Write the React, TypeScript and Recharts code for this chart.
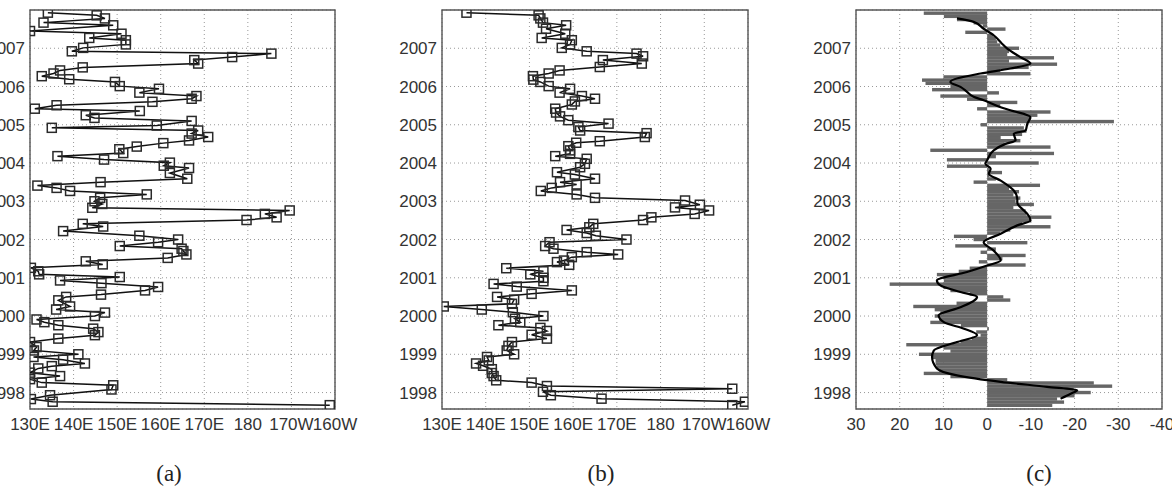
import React from "react";
import {
  ScatterChart,
  Scatter,
  ComposedChart,
  Bar,
  Line,
  XAxis,
  YAxis,
  CartesianGrid,
  ReferenceArea,
} from "recharts";

// ---- shared axes ----
const yearTicks = [1998, 1999, 2000, 2001, 2002, 2003, 2004, 2005, 2006, 2007];
const yearDomain = [1997.57, 2008];
const lonTicks = [130, 140, 150, 160, 170, 180, 190, 200];
const lonTickLabels = ["130E", "140E", "150E", "160E", "170E", "180", "170W", "160W"];
const anomTicks = [30, 20, 10, 0, -10, -20, -30, -40];

// ---- panel (a): time (yr) and longitude (deg E) ----
const aYears = [
  1997.67, 1997.76, 1997.83, 1997.93, 1998.08, 1998.19, 1998.26, 1998.35, 1998.43, 1998.52,
  1998.63, 1998.69, 1998.76, 1998.86, 1998.93, 1999.0, 1999.1, 1999.19, 1999.32, 1999.41,
  1999.5, 1999.58, 1999.67, 1999.76, 1999.84, 1999.91, 2000.0, 2000.09, 2000.17, 2000.25,
  2000.41, 2000.5, 2000.56, 2000.67, 2000.76, 2000.86, 2000.93, 2001.02, 2001.09, 2001.17,
  2001.26, 2001.35, 2001.43, 2001.52, 2001.61, 2001.7, 2001.76, 2001.83, 2001.93, 2002.0,
  2002.1, 2002.22, 2002.34, 2002.41, 2002.51, 2002.58, 2002.67, 2002.76, 2002.83, 2002.93,
  2003.0, 2003.09, 2003.18, 2003.27, 2003.35, 2003.41, 2003.5, 2003.59, 2003.74, 2003.87,
  2003.93, 2004.01, 2004.09, 2004.18, 2004.26, 2004.36, 2004.43, 2004.52, 2004.59, 2004.68,
  2004.77, 2004.85, 2004.92, 2004.98, 2005.1, 2005.18, 2005.25, 2005.36, 2005.42, 2005.51,
  2005.6, 2005.68, 2005.75, 2005.84, 2005.94, 2006.01, 2006.12, 2006.19, 2006.27, 2006.34,
  2006.42, 2006.5, 2006.6, 2006.69, 2006.77, 2006.86, 2006.92, 2007.01, 2007.1, 2007.21,
  2007.27, 2007.38, 2007.45, 2007.6, 2007.67, 2007.78, 2007.86, 2007.93,
];
const aLon = [
  198.8, 135.2, 130.2, 134.6, 148.7, 149.1, 132.7, 130.0, 136.9, 130.0,
  131.9, 135.0, 142.6, 137.6, 130.8, 141.1, 130.9, 131.5, 130.0, 136.5,
  144.9, 145.7, 144.5, 136.5, 133.3, 131.5, 144.9, 147.2, 136.0, 139.2,
  136.5, 138.3, 146.3, 156.4, 159.4, 146.4, 136.9, 150.6, 132.1, 131.9,
  130.2, 146.7, 142.8, 161.6, 165.9, 165.2, 164.8, 150.6, 159.4, 164.0,
  155.1, 137.6, 146.8, 142.1, 179.7, 186.6, 183.9, 189.6, 144.3, 146.6,
  144.8, 146.1, 156.8, 139.2, 136.1, 131.7, 146.2, 166.1, 162.1, 166.5,
  160.7, 162.1, 147.0, 136.3, 151.4, 150.5, 154.5, 160.6, 166.5, 170.9,
  167.1, 168.6, 135.0, 159.1, 167.1, 144.8, 142.8, 155.2, 131.1, 136.1,
  158.1, 167.1, 168.2, 155.1, 159.6, 150.6, 149.5, 139.0, 132.7, 135.4,
  136.9, 142.1, 168.6, 167.7, 176.4, 185.4, 139.6, 142.2, 152.0, 152.0,
  143.6, 151.0, 130.0, 149.1, 133.1, 147.2, 145.3, 134.1,
];

// ---- panel (b) ----
const bYears = [
  1997.67, 1997.76, 1997.84, 1997.93, 1998.02, 1998.1, 1998.17, 1998.26, 1998.32, 1998.43,
  1998.51, 1998.61, 1998.7, 1998.76, 1998.84, 1998.93, 1999.0, 1999.1, 1999.22, 1999.32,
  1999.41, 1999.51, 1999.61, 1999.69, 1999.76, 1999.84, 1999.93, 2000.0, 2000.1, 2000.17,
  2000.25, 2000.32, 2000.43, 2000.5, 2000.58, 2000.67, 2000.77, 2000.84, 2000.91, 2001.0,
  2001.09, 2001.17, 2001.25, 2001.34, 2001.41, 2001.45, 2001.54, 2001.61, 2001.67, 2001.76,
  2001.83, 2001.93, 2002.0, 2002.1, 2002.17, 2002.25, 2002.32, 2002.41, 2002.51, 2002.58,
  2002.67, 2002.76, 2002.84, 2002.91, 2003.02, 2003.09, 2003.18, 2003.27, 2003.35, 2003.44,
  2003.5, 2003.59, 2003.7, 2003.76, 2003.89, 2003.98, 2004.11, 2004.18, 2004.24, 2004.33,
  2004.44, 2004.53, 2004.57, 2004.68, 2004.78, 2004.85, 2004.94, 2005.03, 2005.12, 2005.22,
  2005.32, 2005.42, 2005.53, 2005.61, 2005.68, 2005.75, 2005.84, 2005.94, 2006.01, 2006.12,
  2006.18, 2006.27, 2006.34, 2006.42, 2006.51, 2006.6, 2006.69, 2006.79, 2006.86, 2006.92,
  2007.01, 2007.1, 2007.21, 2007.27, 2007.38, 2007.51, 2007.6, 2007.67, 2007.78, 2007.86,
  2007.93,
];
const bLon = [
  196.4, 199.3, 166.5, 154.9, 153.1, 196.4, 154.0, 150.5, 142.4, 141.8,
  141.4, 141.4, 139.4, 137.8, 140.7, 140.3, 146.5, 144.8, 145.2, 146.0,
  154.0, 150.5, 154.0, 152.5, 142.9, 147.9, 146.7, 153.2, 146.2, 139.1,
  130.4, 146.0, 146.5, 142.6, 150.5, 159.7, 147.1, 141.8, 153.2, 153.2,
  150.2, 153.2, 144.7, 159.1, 156.3, 157.9, 159.7, 170.3, 163.1, 155.5,
  153.6, 154.6, 172.2, 165.2, 163.1, 158.5, 163.7, 164.6, 176.0, 177.9,
  187.8, 191.1, 183.3, 189.0, 185.6, 165.0, 160.8, 152.6, 155.1, 160.8,
  157.0, 165.0, 160.4, 156.3, 161.6, 162.7, 163.1, 155.9, 159.3, 159.3,
  158.9, 160.7, 166.1, 176.4, 176.8, 161.6, 161.2, 168.1, 158.9, 157.0,
  156.1, 155.9, 159.7, 160.4, 165.0, 162.0, 156.9, 159.3, 154.4, 152.5,
  150.9, 150.8, 154.4, 156.9, 166.1, 175.7, 166.8, 176.0, 174.5, 163.1,
  157.4, 159.3, 159.7, 152.8, 158.2, 153.8, 158.4, 153.1, 152.5, 152.1,
  135.6,
];

// ---- panel (c): monthly anomalies (Jan..Dec), 1997 starts in Sep ----
const cBars1997 = [-14.9, -17.6, -16.0, -20.0];
const cBars1998 = [-23.7, -19.8, -28.6, -24.4, -4.6, 8.4, 14.5, 11.0, 11.5, 11.8, 11.8, 12.5];
const cBars1999 = [15.6, 8.4, 10.0, 18.5, 6.1, 3.5, 1.5, 2.5, -0.4, 6.0, 13.0, 11.0];
const cBars2000 = [12.0, 10.7, 12.0, 16.9, 7.0, -5.3, -3.7, 4.0, 8.4, 10.0, 22.3, 9.9];
const cBars2001 = [10.0, 11.5, 6.5, 4.0, -8.8, 1.9, -3.5, -8.8, 1.5, -2.0, 7.3, -9.2];
const cBars2002 = [3.1, 7.6, -3.0, -5.3, -14.5, -8.0, -10.1, -14.7, -9.0, -8.8, -6.0, -10.7];
const cBars2003 = [-6.5, -7.6, -6.0, -7.3, -5.0, -12.1, 3.1, -2.0, -0.5, -3.4, -0.4, 9.2];
const cBars2004 = [-11.8, 9.2, -2.0, -15.3, 13.0, -14.5, -4.0, -7.6, -3.1, -8.0, -9.0, -8.4];
const cBars2005 = [1.5, -29.0, -10.0, -11.5, -14.5, 2.3, -3.0, -6.9, 4.6, 10.7, -2.7, 12.6];
const cBars2006 = [8.4, 14.1, 14.9, 10.0, -9.9, -3.0, -9.5, -16.0, -5.0, -15.3, -4.6, -5.0];
const cBars2007 = [-7.3, -3.0, -2.3, -2.0, -1.5, 5.0, -4.2, 1.0, 3.1, 6.9, 9.9, 14.5];

// smoothed curve (time, value)
const cLineYears = [
  1997.84, 1997.97, 1998.06, 1998.15, 1998.28, 1998.45, 1998.63, 1998.93, 1999.1, 1999.32,
  1999.5, 1999.67, 1999.84, 2000.02, 2000.23, 2000.5, 2000.63, 2000.8, 2000.93, 2001.15,
  2001.32, 2001.45, 2001.71, 2001.93, 2002.15, 2002.37, 2002.5, 2002.67, 2002.76, 2002.97,
  2003.06, 2003.28, 2003.54, 2003.72, 2003.85, 2003.98, 2004.07, 2004.33, 2004.5, 2004.59,
  2004.77, 2004.85, 2005.03, 2005.2, 2005.38, 2005.46, 2005.64, 2005.73, 2005.86, 2005.99,
  2006.12, 2006.34, 2006.47, 2006.6, 2006.77, 2006.99, 2007.12, 2007.34, 2007.51, 2007.69,
  2007.78,
];
const cLineValues = [
  -16.8, -19.1, -20.6, -13.7, -3.1, 6.9, 11.5, 12.6, 12.2, 6.9,
  2.3, 5.3, 9.9, 11.1, 6.1, 2.3, 6.1, 10.7, 11.5, 4.6,
  0, -3.1, -1.5, 0.8, -3.1, -6.9, -9.9, -9.2, -8.4, -6.9,
  -6.9, -6.1, -3.1, -0.4, -0.8, 0.4, 0, -1.5, -4.2, -6.5,
  -6.1, -8.8, -9.2, -9.9, -5.3, -3.1, 0.8, 3.1, 4.6, 6.1,
  8.4, 1.5, -5.3, -9.9, -7.6, -4.6, -3.4, -1.5, 0.8, 3.1,
  6.9,
];

const aData = aYears.map((year, i) => ({ year, lon: aLon[i] }));
const bData = bYears.map((year, i) => ({ year, lon: bLon[i] }));

const barsByYear: [number, number, number[]][] = [
  [1997, 9, cBars1997],
  [1998, 1, cBars1998],
  [1999, 1, cBars1999],
  [2000, 1, cBars2000],
  [2001, 1, cBars2001],
  [2002, 1, cBars2002],
  [2003, 1, cBars2003],
  [2004, 1, cBars2004],
  [2005, 1, cBars2005],
  [2006, 1, cBars2006],
  [2007, 1, cBars2007],
];
const cBarData = barsByYear.flatMap(([yr, firstMonth, vals]) =>
  vals.map((value, i) => ({ year: yr + (firstMonth - 1 + i) / 12, value }))
);
const cLineData = cLineYears.map((year, i) => ({ year, value: cLineValues[i] }));

const tickStyle = { fill: "#333", fontSize: 17, fontFamily: "'Liberation Sans', Arial, sans-serif" };
const GRID = "#999";
const FRAME = "#555";
const BAR_THICK = 3.4;

const SquareMark = (props: any) => {
  const { cx, cy } = props;
  if (cx == null || cy == null) return null;
  return (
    <rect x={cx - 4.5} y={cy - 4.5} width={9} height={9} fill="none" stroke="#2a2a2a" strokeWidth={1.5} />
  );
};

// horizontal bar: keep the library's x/width and centre, fix the thickness
const MonthBar = (props: any) => {
  const { x, y, width, height } = props;
  if (x == null || y == null) return null;
  const mid = y + (height || 0) / 2;
  const left = width < 0 ? x + width : x;
  return <rect x={left} y={mid - BAR_THICK / 2} width={Math.abs(width)} height={BAR_THICK} fill="#666" />;
};

function TrackPanel({ data, left, rightMargin }: { data: any[]; left: number; rightMargin: number }) {
  return (
    <div style={{ position: "absolute", left, top: 0 }}>
      <ScatterChart width={410} height={447} margin={{ top: 10, right: rightMargin, bottom: 0, left: 0 }}>
        <CartesianGrid strokeDasharray="1 3" stroke={GRID} />
        <XAxis
          type="number"
          dataKey="lon"
          domain={[130, 200]}
          ticks={lonTicks}
          tickFormatter={(v: number) => lonTickLabels[lonTicks.indexOf(v)]}
          tick={tickStyle}
          tickLine={false}
          tickSize={0}
          tickMargin={9}
          axisLine={false}
          height={38}
          interval={0}
          allowDataOverflow
        />
        <YAxis
          type="number"
          dataKey="year"
          domain={yearDomain}
          ticks={yearTicks}
          tick={tickStyle}
          tickLine={false}
          tickSize={0}
          tickMargin={5}
          axisLine={false}
          width={80}
          interval={0}
          allowDataOverflow
        />
        <Scatter
          data={data}
          line={{ stroke: "#111", strokeWidth: 1.5 }}
          shape={SquareMark}
          isAnimationActive={false}
        />
        <ReferenceArea
          x1={130}
          x2={200}
          y1={yearDomain[0]}
          y2={yearDomain[1]}
          fill="none"
          stroke={FRAME}
          strokeWidth={1.4}
        />
      </ScatterChart>
    </div>
  );
}

function AnomalyPanel({ left }: { left: number }) {
  return (
    <div style={{ position: "absolute", left, top: 0 }}>
      <ComposedChart
        layout="vertical"
        width={410}
        height={447}
        data={cBarData}
        margin={{ top: 10, right: 24, bottom: 0, left: 0 }}
      >
        <CartesianGrid strokeDasharray="1 3" stroke={GRID} />
        <XAxis
          type="number"
          domain={[-40, 30]}
          ticks={anomTicks}
          reversed
          tick={tickStyle}
          tickLine={false}
          tickSize={0}
          tickMargin={9}
          axisLine={false}
          height={38}
          interval={0}
          allowDataOverflow
        />
        <YAxis
          type="number"
          dataKey="year"
          domain={yearDomain}
          ticks={yearTicks}
          reversed
          tick={tickStyle}
          tickLine={false}
          tickSize={0}
          tickMargin={5}
          axisLine={false}
          width={80}
          interval={0}
          allowDataOverflow
        />
        <Bar dataKey="value" fill="#666" barSize={BAR_THICK} shape={MonthBar} isAnimationActive={false} />
        <Line
          data={cLineData}
          dataKey="value"
          type="monotone"
          stroke="#000"
          strokeWidth={2.2}
          dot={false}
          isAnimationActive={false}
        />
        <ReferenceArea
          x1={-40}
          x2={30}
          y1={yearDomain[0]}
          y2={yearDomain[1]}
          fill="none"
          stroke={FRAME}
          strokeWidth={1.4}
        />
      </ComposedChart>
    </div>
  );
}

const captionStyle: React.CSSProperties = {
  position: "absolute",
  top: 460,
  width: 80,
  textAlign: "center",
  fontFamily: "'Liberation Serif', 'Times New Roman', serif",
  fontSize: 23,
  lineHeight: "28px",
  color: "#222",
};

export default function App() {
  return (
    <div
      style={{
        position: "absolute",
        left: 0,
        top: 0,
        width: 1172,
        height: 488,
        overflow: "hidden",
        background: "#fff",
      }}
    >
      <TrackPanel data={aData} left={-50} rightMargin={25} />
      <TrackPanel data={bData} left={362} rightMargin={24} />
      <AnomalyPanel left={776} />
      <div style={{ ...captionStyle, left: 169 - 40 }}>(a)</div>
      <div style={{ ...captionStyle, left: 601 - 40 }}>(b)</div>
      <div style={{ ...captionStyle, left: 1039 - 40 }}>(c)</div>
    </div>
  );
}
